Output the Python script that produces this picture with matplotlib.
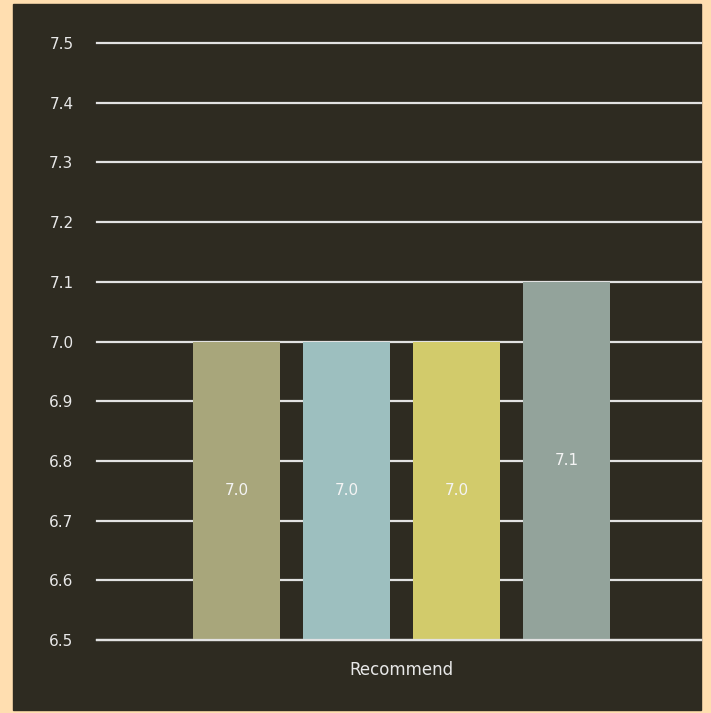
import numpy as np
import matplotlib.pyplot as plt
from matplotlib.patches import Rectangle

# 数据
category = 'Recommend'
series = ['A', 'B', 'C', 'D']
values = [7.0, 7.0, 7.0, 7.1]
colors = ['#A8A67B', '#9DBFBF', '#D2CB6B', '#93A39B']
yticks = [6.5, 6.6, 6.7, 6.8, 6.9, 7.0, 7.1, 7.2, 7.3, 7.4, 7.5]

bg = '#2E2B21'
border = '#FFDEB0'
txt = '#E8E8E8'
font = 'DejaVu Sans'

fig = plt.figure(figsize=(7.11, 7.13), dpi=100, facecolor=border)
fig.patches.append(Rectangle((13/711, 3/713), 688/711, 706/713,
                             transform=fig.transFigure, color=bg, zorder=-5))

ax = fig.add_axes([97/711, (713-640)/713, 604/711, (640-43)/713])
ax.set_facecolor(bg)
ax.patch.set_alpha(0)

# 柱子
pitch = 1.0
width = 0.79
offsets = (np.arange(len(values)) - (len(values)-1)/2) * pitch
for off, v, c in zip(offsets, values, colors):
    ax.bar(off, v - 6.5, bottom=6.5, width=width, color=c, zorder=3)
    ax.text(off, (v + 6.5)/2, f'{v:.1f}', ha='center', va='center',
            color='#F4F4F4', fontsize=11, family=font, zorder=4)

ax.set_ylim(6.5, 7.5)
ax.set_xlim(-304.5/110, 299.5/110)
ax.set_yticks(yticks)
ax.set_yticklabels([f'{t:.1f}' for t in yticks], color=txt,
                   fontsize=11, family=font)
ax.set_xticks([0])
ax.set_xticklabels([category], color=txt, fontsize=12, family=font)
ax.tick_params(axis='y', length=0, pad=17)
ax.tick_params(axis='x', length=0, pad=15)
ax.yaxis.grid(True, color='#E2E2E2', linewidth=1.6, zorder=1)
ax.set_axisbelow(True)
for gl in ax.get_ygridlines():
    gl.set_clip_on(False)
ax.axhline(6.5, color='#E2E2E2', linewidth=1.6, zorder=4, clip_on=False)
for s in ax.spines.values():
    s.set_visible(False)

fig.savefig('out.png', dpi=100, facecolor=border)
